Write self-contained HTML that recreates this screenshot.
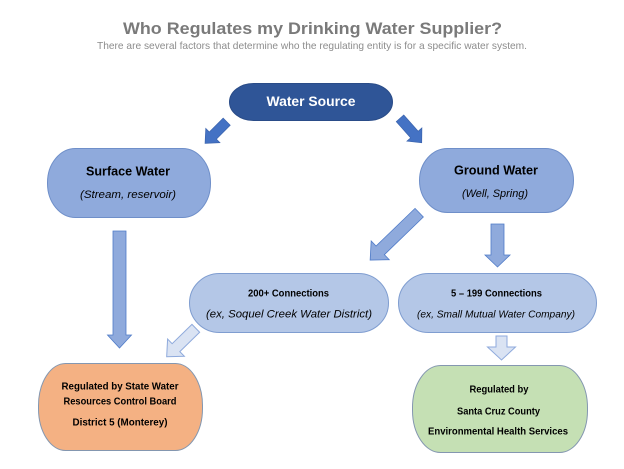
<!DOCTYPE html>
<html>
<head>
<meta charset="utf-8">
<style>
  html,body{margin:0;padding:0;background:#fff;}
  svg{display:block;}
  .b{font-family:"Liberation Sans",Arial,sans-serif;font-weight:bold;}
  .i{font-family:"Liberation Sans",Arial,sans-serif;font-style:italic;}
  .r{font-family:"Liberation Sans",Arial,sans-serif;}
</style>
</head>
<body>
<svg width="624" height="469" viewBox="0 0 624 469" xmlns="http://www.w3.org/2000/svg">
  <rect x="0" y="0" width="624" height="469" fill="#ffffff"/>

  <!-- Title -->
  <text class="b" x="312.5" y="34" font-size="17" fill="#7a7a7a" text-anchor="middle" textLength="379" lengthAdjust="spacingAndGlyphs">Who Regulates my Drinking Water Supplier?</text>
  <text class="r" x="312" y="49" font-size="10.5" fill="#8c8c8c" text-anchor="middle" textLength="430" lengthAdjust="spacingAndGlyphs">There are several factors that determine who the regulating entity is for a specific water system.</text>

  <!-- Water Source -->
  <rect x="229.5" y="83.5" width="163" height="37" rx="24" ry="18.5" fill="#2F5597" stroke="#2a4c88" stroke-width="1"/>
  <text class="b" x="311" y="106" font-size="14" fill="#ffffff" text-anchor="middle" textLength="89" lengthAdjust="spacingAndGlyphs">Water Source</text>

  <!-- Dark diagonal arrows -->
  <g transform="translate(226.7,121.7) rotate(135)">
    <polygon points="0,-5 19.6,-5 19.6,-10 30.6,0 19.6,10 19.6,5 0,5" fill="#4472C4" stroke="#3a63ad" stroke-width="0.7"/>
  </g>
  <g transform="translate(400,118.3) rotate(48.4)">
    <polygon points="0,-5 21.7,-5 21.7,-10 32.7,0 21.7,10 21.7,5 0,5" fill="#4472C4" stroke="#3a63ad" stroke-width="0.7"/>
  </g>

  <!-- Surface Water -->
  <rect x="47.5" y="148.5" width="163" height="69" rx="28" ry="34" fill="#8FAADC" stroke="#6f8fc9" stroke-width="1"/>
  <text class="b" x="128" y="175.5" font-size="12.5" fill="#000" text-anchor="middle" textLength="84" lengthAdjust="spacingAndGlyphs">Surface Water</text>
  <text class="i" x="128" y="198" font-size="11" fill="#000" text-anchor="middle" textLength="96" lengthAdjust="spacingAndGlyphs">(Stream, reservoir)</text>

  <!-- Ground Water -->
  <rect x="419.5" y="148.5" width="154" height="64" rx="28" ry="32" fill="#8FAADC" stroke="#6f8fc9" stroke-width="1"/>
  <text class="b" x="496" y="174.5" font-size="12.5" fill="#000" text-anchor="middle" textLength="84" lengthAdjust="spacingAndGlyphs">Ground Water</text>
  <text class="i" x="495" y="197" font-size="11" fill="#000" text-anchor="middle" textLength="66" lengthAdjust="spacingAndGlyphs">(Well, Spring)</text>

  <!-- Medium arrows -->
  <polygon points="113,231 126,231 126,335 131.5,335 119.5,348 107.5,335 113,335" fill="#8FAADC" stroke="#4f7bc8" stroke-width="0.8"/>
  <polygon points="491,224 504,224 504,255 510,255 497.5,267 485,255 491,255" fill="#8FAADC" stroke="#4f7bc8" stroke-width="0.8"/>
  <g transform="translate(419.2,212.7) rotate(136)">
    <polygon points="0,-6 54.2,-6 54.2,-13 68.2,0 54.2,13 54.2,6 0,6" fill="#8FAADC" stroke="#4f7bc8" stroke-width="0.8"/>
  </g>

  <!-- 200+ Connections -->
  <rect x="189.5" y="273.5" width="199" height="59" rx="30" ry="29.5" fill="#B4C7E7" stroke="#7f9dd0" stroke-width="1"/>
  <text class="b" x="288.5" y="296.5" font-size="10" fill="#000" text-anchor="middle" textLength="81" lengthAdjust="spacingAndGlyphs">200+ Connections</text>
  <text class="i" x="289" y="317.5" font-size="11" fill="#000" text-anchor="middle" textLength="166" lengthAdjust="spacingAndGlyphs">(ex, Soquel Creek Water District)</text>

  <!-- 5-199 Connections -->
  <rect x="398.5" y="273.5" width="198" height="59" rx="30" ry="29.5" fill="#B4C7E7" stroke="#7f9dd0" stroke-width="1"/>
  <text class="b" x="496.5" y="296.5" font-size="10" fill="#000" text-anchor="middle" textLength="91" lengthAdjust="spacingAndGlyphs">5 – 199 Connections</text>
  <text class="i" x="496" y="317.5" font-size="10.5" fill="#000" text-anchor="middle" textLength="158" lengthAdjust="spacingAndGlyphs">(ex, Small Mutual Water Company)</text>

  <!-- Light arrows -->
  <g transform="translate(195.8,328.3) rotate(135.7)">
    <polygon points="0,-5.5 27.7,-5.5 27.7,-12 40.7,0 27.7,12 27.7,5.5 0,5.5" fill="#DAE3F3" stroke="#8FAADC" stroke-width="1"/>
  </g>
  <polygon points="496,336 507,336 507,347 515.5,347 501.5,360 487.5,347 496,347" fill="#DAE3F3" stroke="#8FAADC" stroke-width="1"/>

  <!-- Orange box -->
  <rect x="38.5" y="363.5" width="164" height="87" rx="27" ry="42" fill="#F4B183" stroke="#8497b0" stroke-width="1"/>
  <text class="b" x="120" y="389.5" font-size="10.5" fill="#000" text-anchor="middle" textLength="117" lengthAdjust="spacingAndGlyphs">Regulated by State Water</text>
  <text class="b" x="120" y="404.5" font-size="10.5" fill="#000" text-anchor="middle" textLength="113" lengthAdjust="spacingAndGlyphs">Resources Control Board</text>
  <text class="b" x="120" y="425.5" font-size="10.5" fill="#000" text-anchor="middle" textLength="95" lengthAdjust="spacingAndGlyphs">District 5 (Monterey)</text>

  <!-- Green box -->
  <rect x="412.5" y="365.5" width="175" height="87" rx="28" ry="42" fill="#C5E0B4" stroke="#8497b0" stroke-width="1"/>
  <text class="b" x="499" y="392.5" font-size="10.5" fill="#000" text-anchor="middle" textLength="59" lengthAdjust="spacingAndGlyphs">Regulated by</text>
  <text class="b" x="498.5" y="414.5" font-size="10.5" fill="#000" text-anchor="middle" textLength="83" lengthAdjust="spacingAndGlyphs">Santa Cruz County</text>
  <text class="b" x="498" y="434.5" font-size="10.5" fill="#000" text-anchor="middle" textLength="140" lengthAdjust="spacingAndGlyphs">Environmental Health Services</text>
</svg>
</body>
</html>
